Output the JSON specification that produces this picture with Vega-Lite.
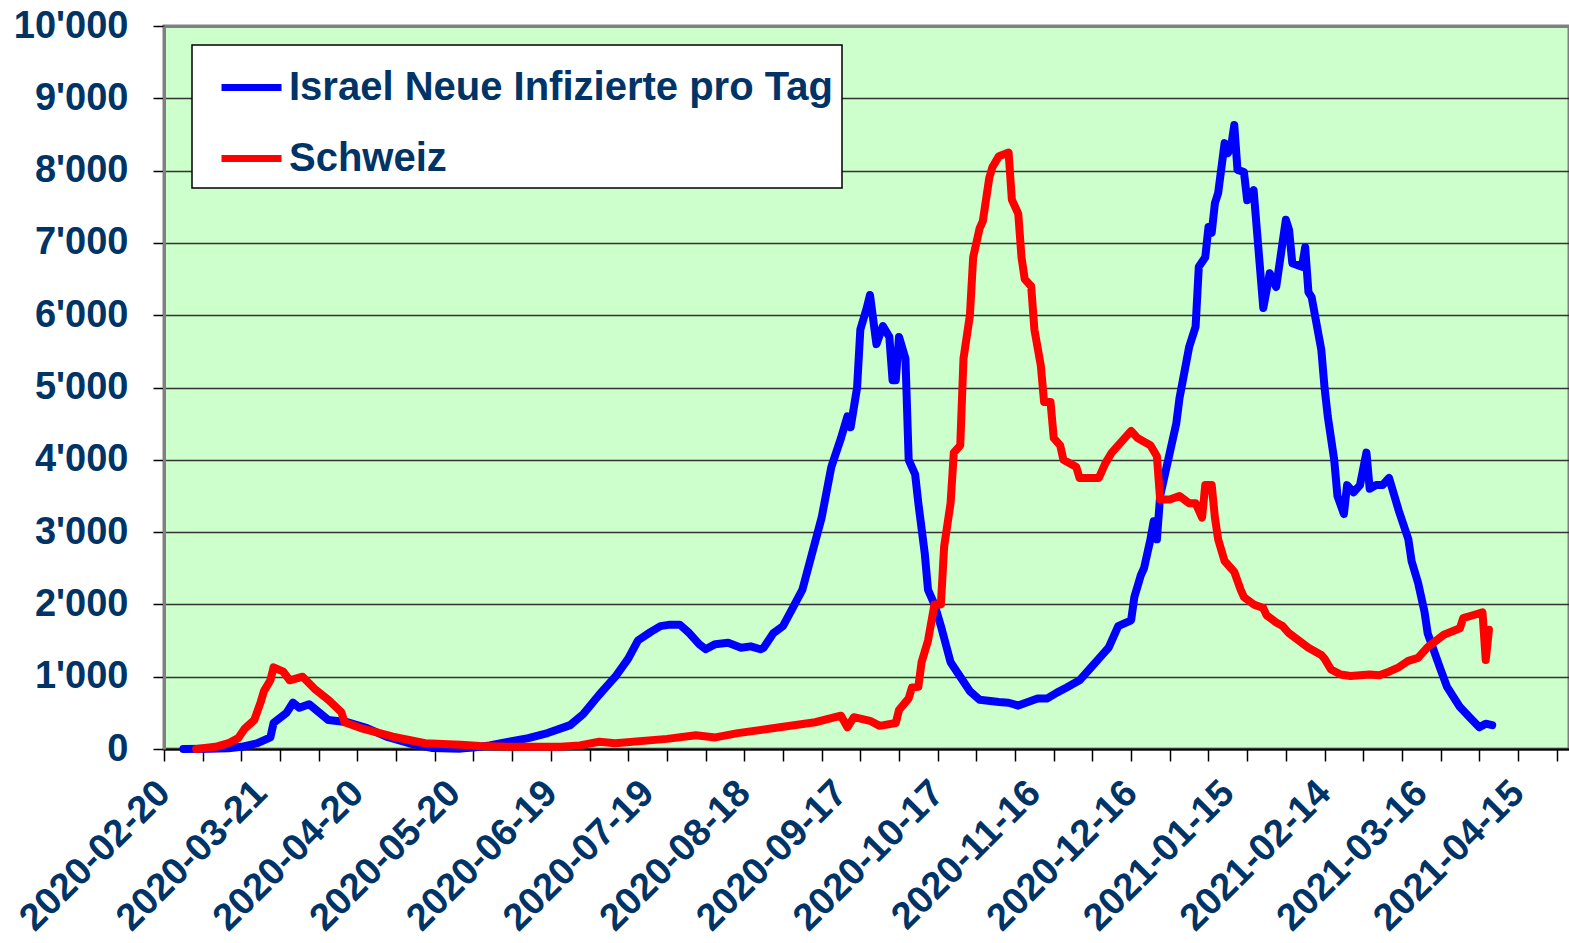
{
  "$schema": "https://vega.github.io/schema/vega-lite/v6.json",
  "width": 1405,
  "height": 723,
  "autosize": {"type": "none"},
  "padding": {"left": 164, "top": 26, "right": 0, "bottom": 194},
  "background": "white",
  "config": {
    "font": "Liberation Sans",
    "view": {"fill": "#CCFFCC", "stroke": "#808080", "strokeWidth": 3},
    "legend": {"fillColor": "white", "strokeColor": "black", "strokeWidth": 1.5}
  },
  "data": {"values": [
    {"date":"2020-02-26","value":0,"series":"Israel Neue Infizierte pro Tag"},
    {"date":"2020-03-05","value":5,"series":"Israel Neue Infizierte pro Tag"},
    {"date":"2020-03-11","value":10,"series":"Israel Neue Infizierte pro Tag"},
    {"date":"2020-03-15","value":30,"series":"Israel Neue Infizierte pro Tag"},
    {"date":"2020-03-20","value":80,"series":"Israel Neue Infizierte pro Tag"},
    {"date":"2020-03-24","value":160,"series":"Israel Neue Infizierte pro Tag"},
    {"date":"2020-03-25","value":360,"series":"Israel Neue Infizierte pro Tag"},
    {"date":"2020-03-29","value":500,"series":"Israel Neue Infizierte pro Tag"},
    {"date":"2020-03-31","value":640,"series":"Israel Neue Infizierte pro Tag"},
    {"date":"2020-04-02","value":570,"series":"Israel Neue Infizierte pro Tag"},
    {"date":"2020-04-05","value":620,"series":"Israel Neue Infizierte pro Tag"},
    {"date":"2020-04-08","value":510,"series":"Israel Neue Infizierte pro Tag"},
    {"date":"2020-04-11","value":400,"series":"Israel Neue Infizierte pro Tag"},
    {"date":"2020-04-17","value":370,"series":"Israel Neue Infizierte pro Tag"},
    {"date":"2020-04-23","value":290,"series":"Israel Neue Infizierte pro Tag"},
    {"date":"2020-04-29","value":170,"series":"Israel Neue Infizierte pro Tag"},
    {"date":"2020-05-06","value":80,"series":"Israel Neue Infizierte pro Tag"},
    {"date":"2020-05-13","value":15,"series":"Israel Neue Infizierte pro Tag"},
    {"date":"2020-05-22","value":5,"series":"Israel Neue Infizierte pro Tag"},
    {"date":"2020-05-26","value":20,"series":"Israel Neue Infizierte pro Tag"},
    {"date":"2020-05-31","value":50,"series":"Israel Neue Infizierte pro Tag"},
    {"date":"2020-06-06","value":100,"series":"Israel Neue Infizierte pro Tag"},
    {"date":"2020-06-12","value":150,"series":"Israel Neue Infizierte pro Tag"},
    {"date":"2020-06-18","value":220,"series":"Israel Neue Infizierte pro Tag"},
    {"date":"2020-06-25","value":330,"series":"Israel Neue Infizierte pro Tag"},
    {"date":"2020-06-29","value":480,"series":"Israel Neue Infizierte pro Tag"},
    {"date":"2020-07-04","value":750,"series":"Israel Neue Infizierte pro Tag"},
    {"date":"2020-07-09","value":1000,"series":"Israel Neue Infizierte pro Tag"},
    {"date":"2020-07-13","value":1250,"series":"Israel Neue Infizierte pro Tag"},
    {"date":"2020-07-16","value":1500,"series":"Israel Neue Infizierte pro Tag"},
    {"date":"2020-07-20","value":1620,"series":"Israel Neue Infizierte pro Tag"},
    {"date":"2020-07-23","value":1700,"series":"Israel Neue Infizierte pro Tag"},
    {"date":"2020-07-26","value":1720,"series":"Israel Neue Infizierte pro Tag"},
    {"date":"2020-07-29","value":1720,"series":"Israel Neue Infizierte pro Tag"},
    {"date":"2020-08-01","value":1600,"series":"Israel Neue Infizierte pro Tag"},
    {"date":"2020-08-04","value":1450,"series":"Israel Neue Infizierte pro Tag"},
    {"date":"2020-08-06","value":1380,"series":"Israel Neue Infizierte pro Tag"},
    {"date":"2020-08-09","value":1450,"series":"Israel Neue Infizierte pro Tag"},
    {"date":"2020-08-13","value":1470,"series":"Israel Neue Infizierte pro Tag"},
    {"date":"2020-08-17","value":1400,"series":"Israel Neue Infizierte pro Tag"},
    {"date":"2020-08-20","value":1420,"series":"Israel Neue Infizierte pro Tag"},
    {"date":"2020-08-23","value":1380,"series":"Israel Neue Infizierte pro Tag"},
    {"date":"2020-08-24","value":1400,"series":"Israel Neue Infizierte pro Tag"},
    {"date":"2020-08-27","value":1600,"series":"Israel Neue Infizierte pro Tag"},
    {"date":"2020-08-30","value":1700,"series":"Israel Neue Infizierte pro Tag"},
    {"date":"2020-09-02","value":1950,"series":"Israel Neue Infizierte pro Tag"},
    {"date":"2020-09-05","value":2200,"series":"Israel Neue Infizierte pro Tag"},
    {"date":"2020-09-08","value":2700,"series":"Israel Neue Infizierte pro Tag"},
    {"date":"2020-09-11","value":3200,"series":"Israel Neue Infizierte pro Tag"},
    {"date":"2020-09-14","value":3900,"series":"Israel Neue Infizierte pro Tag"},
    {"date":"2020-09-17","value":4300,"series":"Israel Neue Infizierte pro Tag"},
    {"date":"2020-09-19","value":4600,"series":"Israel Neue Infizierte pro Tag"},
    {"date":"2020-09-20","value":4450,"series":"Israel Neue Infizierte pro Tag"},
    {"date":"2020-09-22","value":5000,"series":"Israel Neue Infizierte pro Tag"},
    {"date":"2020-09-23","value":5800,"series":"Israel Neue Infizierte pro Tag"},
    {"date":"2020-09-25","value":6100,"series":"Israel Neue Infizierte pro Tag"},
    {"date":"2020-09-26","value":6280,"series":"Israel Neue Infizierte pro Tag"},
    {"date":"2020-09-28","value":5600,"series":"Israel Neue Infizierte pro Tag"},
    {"date":"2020-09-30","value":5850,"series":"Israel Neue Infizierte pro Tag"},
    {"date":"2020-10-02","value":5700,"series":"Israel Neue Infizierte pro Tag"},
    {"date":"2020-10-03","value":5100,"series":"Israel Neue Infizierte pro Tag"},
    {"date":"2020-10-04","value":5100,"series":"Israel Neue Infizierte pro Tag"},
    {"date":"2020-10-05","value":5700,"series":"Israel Neue Infizierte pro Tag"},
    {"date":"2020-10-07","value":5400,"series":"Israel Neue Infizierte pro Tag"},
    {"date":"2020-10-08","value":4000,"series":"Israel Neue Infizierte pro Tag"},
    {"date":"2020-10-10","value":3800,"series":"Israel Neue Infizierte pro Tag"},
    {"date":"2020-10-11","value":3400,"series":"Israel Neue Infizierte pro Tag"},
    {"date":"2020-10-13","value":2700,"series":"Israel Neue Infizierte pro Tag"},
    {"date":"2020-10-14","value":2200,"series":"Israel Neue Infizierte pro Tag"},
    {"date":"2020-10-16","value":2000,"series":"Israel Neue Infizierte pro Tag"},
    {"date":"2020-10-18","value":1700,"series":"Israel Neue Infizierte pro Tag"},
    {"date":"2020-10-21","value":1200,"series":"Israel Neue Infizierte pro Tag"},
    {"date":"2020-10-24","value":1000,"series":"Israel Neue Infizierte pro Tag"},
    {"date":"2020-10-27","value":800,"series":"Israel Neue Infizierte pro Tag"},
    {"date":"2020-10-30","value":680,"series":"Israel Neue Infizierte pro Tag"},
    {"date":"2020-11-05","value":650,"series":"Israel Neue Infizierte pro Tag"},
    {"date":"2020-11-08","value":640,"series":"Israel Neue Infizierte pro Tag"},
    {"date":"2020-11-11","value":600,"series":"Israel Neue Infizierte pro Tag"},
    {"date":"2020-11-14","value":650,"series":"Israel Neue Infizierte pro Tag"},
    {"date":"2020-11-17","value":700,"series":"Israel Neue Infizierte pro Tag"},
    {"date":"2020-11-20","value":700,"series":"Israel Neue Infizierte pro Tag"},
    {"date":"2020-11-23","value":780,"series":"Israel Neue Infizierte pro Tag"},
    {"date":"2020-11-26","value":850,"series":"Israel Neue Infizierte pro Tag"},
    {"date":"2020-11-30","value":950,"series":"Israel Neue Infizierte pro Tag"},
    {"date":"2020-12-03","value":1100,"series":"Israel Neue Infizierte pro Tag"},
    {"date":"2020-12-06","value":1250,"series":"Israel Neue Infizierte pro Tag"},
    {"date":"2020-12-09","value":1400,"series":"Israel Neue Infizierte pro Tag"},
    {"date":"2020-12-12","value":1700,"series":"Israel Neue Infizierte pro Tag"},
    {"date":"2020-12-16","value":1780,"series":"Israel Neue Infizierte pro Tag"},
    {"date":"2020-12-17","value":2100,"series":"Israel Neue Infizierte pro Tag"},
    {"date":"2020-12-19","value":2400,"series":"Israel Neue Infizierte pro Tag"},
    {"date":"2020-12-20","value":2500,"series":"Israel Neue Infizierte pro Tag"},
    {"date":"2020-12-22","value":2900,"series":"Israel Neue Infizierte pro Tag"},
    {"date":"2020-12-23","value":3150,"series":"Israel Neue Infizierte pro Tag"},
    {"date":"2020-12-24","value":2900,"series":"Israel Neue Infizierte pro Tag"},
    {"date":"2020-12-25","value":3500,"series":"Israel Neue Infizierte pro Tag"},
    {"date":"2020-12-28","value":4100,"series":"Israel Neue Infizierte pro Tag"},
    {"date":"2020-12-30","value":4500,"series":"Israel Neue Infizierte pro Tag"},
    {"date":"2020-12-31","value":4850,"series":"Israel Neue Infizierte pro Tag"},
    {"date":"2021-01-03","value":5560,"series":"Israel Neue Infizierte pro Tag"},
    {"date":"2021-01-05","value":5840,"series":"Israel Neue Infizierte pro Tag"},
    {"date":"2021-01-06","value":6670,"series":"Israel Neue Infizierte pro Tag"},
    {"date":"2021-01-08","value":6800,"series":"Israel Neue Infizierte pro Tag"},
    {"date":"2021-01-09","value":7220,"series":"Israel Neue Infizierte pro Tag"},
    {"date":"2021-01-10","value":7140,"series":"Israel Neue Infizierte pro Tag"},
    {"date":"2021-01-11","value":7550,"series":"Israel Neue Infizierte pro Tag"},
    {"date":"2021-01-12","value":7690,"series":"Israel Neue Infizierte pro Tag"},
    {"date":"2021-01-14","value":8380,"series":"Israel Neue Infizierte pro Tag"},
    {"date":"2021-01-15","value":8240,"series":"Israel Neue Infizierte pro Tag"},
    {"date":"2021-01-16","value":8330,"series":"Israel Neue Infizierte pro Tag"},
    {"date":"2021-01-17","value":8630,"series":"Israel Neue Infizierte pro Tag"},
    {"date":"2021-01-18","value":8010,"series":"Israel Neue Infizierte pro Tag"},
    {"date":"2021-01-20","value":7980,"series":"Israel Neue Infizierte pro Tag"},
    {"date":"2021-01-21","value":7590,"series":"Israel Neue Infizierte pro Tag"},
    {"date":"2021-01-23","value":7730,"series":"Israel Neue Infizierte pro Tag"},
    {"date":"2021-01-26","value":6100,"series":"Israel Neue Infizierte pro Tag"},
    {"date":"2021-01-28","value":6580,"series":"Israel Neue Infizierte pro Tag"},
    {"date":"2021-01-30","value":6390,"series":"Israel Neue Infizierte pro Tag"},
    {"date":"2021-02-02","value":7320,"series":"Israel Neue Infizierte pro Tag"},
    {"date":"2021-02-03","value":7180,"series":"Israel Neue Infizierte pro Tag"},
    {"date":"2021-02-04","value":6720,"series":"Israel Neue Infizierte pro Tag"},
    {"date":"2021-02-07","value":6670,"series":"Israel Neue Infizierte pro Tag"},
    {"date":"2021-02-08","value":6940,"series":"Israel Neue Infizierte pro Tag"},
    {"date":"2021-02-09","value":6320,"series":"Israel Neue Infizierte pro Tag"},
    {"date":"2021-02-10","value":6250,"series":"Israel Neue Infizierte pro Tag"},
    {"date":"2021-02-13","value":5520,"series":"Israel Neue Infizierte pro Tag"},
    {"date":"2021-02-14","value":5000,"series":"Israel Neue Infizierte pro Tag"},
    {"date":"2021-02-15","value":4600,"series":"Israel Neue Infizierte pro Tag"},
    {"date":"2021-02-17","value":4000,"series":"Israel Neue Infizierte pro Tag"},
    {"date":"2021-02-18","value":3500,"series":"Israel Neue Infizierte pro Tag"},
    {"date":"2021-02-20","value":3250,"series":"Israel Neue Infizierte pro Tag"},
    {"date":"2021-02-21","value":3650,"series":"Israel Neue Infizierte pro Tag"},
    {"date":"2021-02-23","value":3550,"series":"Israel Neue Infizierte pro Tag"},
    {"date":"2021-02-25","value":3650,"series":"Israel Neue Infizierte pro Tag"},
    {"date":"2021-02-27","value":4100,"series":"Israel Neue Infizierte pro Tag"},
    {"date":"2021-02-28","value":3600,"series":"Israel Neue Infizierte pro Tag"},
    {"date":"2021-03-02","value":3650,"series":"Israel Neue Infizierte pro Tag"},
    {"date":"2021-03-04","value":3650,"series":"Israel Neue Infizierte pro Tag"},
    {"date":"2021-03-06","value":3750,"series":"Israel Neue Infizierte pro Tag"},
    {"date":"2021-03-07","value":3600,"series":"Israel Neue Infizierte pro Tag"},
    {"date":"2021-03-09","value":3300,"series":"Israel Neue Infizierte pro Tag"},
    {"date":"2021-03-12","value":2900,"series":"Israel Neue Infizierte pro Tag"},
    {"date":"2021-03-13","value":2600,"series":"Israel Neue Infizierte pro Tag"},
    {"date":"2021-03-15","value":2300,"series":"Israel Neue Infizierte pro Tag"},
    {"date":"2021-03-17","value":1900,"series":"Israel Neue Infizierte pro Tag"},
    {"date":"2021-03-18","value":1600,"series":"Israel Neue Infizierte pro Tag"},
    {"date":"2021-03-22","value":1100,"series":"Israel Neue Infizierte pro Tag"},
    {"date":"2021-03-24","value":860,"series":"Israel Neue Infizierte pro Tag"},
    {"date":"2021-03-28","value":580,"series":"Israel Neue Infizierte pro Tag"},
    {"date":"2021-03-31","value":440,"series":"Israel Neue Infizierte pro Tag"},
    {"date":"2021-04-03","value":300,"series":"Israel Neue Infizierte pro Tag"},
    {"date":"2021-04-05","value":350,"series":"Israel Neue Infizierte pro Tag"},
    {"date":"2021-04-07","value":330,"series":"Israel Neue Infizierte pro Tag"},
    {"date":"2020-03-01","value":0,"series":"Schweiz"},
    {"date":"2020-03-07","value":30,"series":"Schweiz"},
    {"date":"2020-03-11","value":80,"series":"Schweiz"},
    {"date":"2020-03-14","value":150,"series":"Schweiz"},
    {"date":"2020-03-16","value":280,"series":"Schweiz"},
    {"date":"2020-03-19","value":400,"series":"Schweiz"},
    {"date":"2020-03-21","value":650,"series":"Schweiz"},
    {"date":"2020-03-22","value":800,"series":"Schweiz"},
    {"date":"2020-03-24","value":950,"series":"Schweiz"},
    {"date":"2020-03-25","value":1130,"series":"Schweiz"},
    {"date":"2020-03-28","value":1070,"series":"Schweiz"},
    {"date":"2020-03-30","value":950,"series":"Schweiz"},
    {"date":"2020-04-03","value":1000,"series":"Schweiz"},
    {"date":"2020-04-07","value":820,"series":"Schweiz"},
    {"date":"2020-04-11","value":680,"series":"Schweiz"},
    {"date":"2020-04-15","value":510,"series":"Schweiz"},
    {"date":"2020-04-16","value":370,"series":"Schweiz"},
    {"date":"2020-04-21","value":290,"series":"Schweiz"},
    {"date":"2020-05-01","value":170,"series":"Schweiz"},
    {"date":"2020-05-11","value":80,"series":"Schweiz"},
    {"date":"2020-05-22","value":60,"series":"Schweiz"},
    {"date":"2020-05-28","value":40,"series":"Schweiz"},
    {"date":"2020-06-09","value":30,"series":"Schweiz"},
    {"date":"2020-06-22","value":30,"series":"Schweiz"},
    {"date":"2020-06-28","value":50,"series":"Schweiz"},
    {"date":"2020-07-04","value":100,"series":"Schweiz"},
    {"date":"2020-07-09","value":80,"series":"Schweiz"},
    {"date":"2020-07-25","value":140,"series":"Schweiz"},
    {"date":"2020-08-03","value":190,"series":"Schweiz"},
    {"date":"2020-08-09","value":160,"series":"Schweiz"},
    {"date":"2020-08-16","value":220,"series":"Schweiz"},
    {"date":"2020-08-29","value":300,"series":"Schweiz"},
    {"date":"2020-09-09","value":370,"series":"Schweiz"},
    {"date":"2020-09-17","value":460,"series":"Schweiz"},
    {"date":"2020-09-19","value":300,"series":"Schweiz"},
    {"date":"2020-09-21","value":440,"series":"Schweiz"},
    {"date":"2020-09-26","value":390,"series":"Schweiz"},
    {"date":"2020-09-29","value":320,"series":"Schweiz"},
    {"date":"2020-10-04","value":360,"series":"Schweiz"},
    {"date":"2020-10-05","value":540,"series":"Schweiz"},
    {"date":"2020-10-08","value":700,"series":"Schweiz"},
    {"date":"2020-10-09","value":850,"series":"Schweiz"},
    {"date":"2020-10-11","value":860,"series":"Schweiz"},
    {"date":"2020-10-12","value":1200,"series":"Schweiz"},
    {"date":"2020-10-14","value":1500,"series":"Schweiz"},
    {"date":"2020-10-16","value":2000,"series":"Schweiz"},
    {"date":"2020-10-18","value":2000,"series":"Schweiz"},
    {"date":"2020-10-19","value":2800,"series":"Schweiz"},
    {"date":"2020-10-21","value":3400,"series":"Schweiz"},
    {"date":"2020-10-22","value":4100,"series":"Schweiz"},
    {"date":"2020-10-24","value":4200,"series":"Schweiz"},
    {"date":"2020-10-25","value":5400,"series":"Schweiz"},
    {"date":"2020-10-27","value":6000,"series":"Schweiz"},
    {"date":"2020-10-28","value":6800,"series":"Schweiz"},
    {"date":"2020-10-30","value":7200,"series":"Schweiz"},
    {"date":"2020-10-31","value":7300,"series":"Schweiz"},
    {"date":"2020-11-02","value":7900,"series":"Schweiz"},
    {"date":"2020-11-03","value":8050,"series":"Schweiz"},
    {"date":"2020-11-05","value":8200,"series":"Schweiz"},
    {"date":"2020-11-08","value":8250,"series":"Schweiz"},
    {"date":"2020-11-09","value":7600,"series":"Schweiz"},
    {"date":"2020-11-11","value":7400,"series":"Schweiz"},
    {"date":"2020-11-12","value":6800,"series":"Schweiz"},
    {"date":"2020-11-13","value":6500,"series":"Schweiz"},
    {"date":"2020-11-15","value":6400,"series":"Schweiz"},
    {"date":"2020-11-16","value":5800,"series":"Schweiz"},
    {"date":"2020-11-18","value":5300,"series":"Schweiz"},
    {"date":"2020-11-19","value":4800,"series":"Schweiz"},
    {"date":"2020-11-21","value":4800,"series":"Schweiz"},
    {"date":"2020-11-22","value":4300,"series":"Schweiz"},
    {"date":"2020-11-24","value":4200,"series":"Schweiz"},
    {"date":"2020-11-25","value":4000,"series":"Schweiz"},
    {"date":"2020-11-29","value":3900,"series":"Schweiz"},
    {"date":"2020-11-30","value":3750,"series":"Schweiz"},
    {"date":"2020-12-03","value":3750,"series":"Schweiz"},
    {"date":"2020-12-06","value":3750,"series":"Schweiz"},
    {"date":"2020-12-08","value":3950,"series":"Schweiz"},
    {"date":"2020-12-10","value":4100,"series":"Schweiz"},
    {"date":"2020-12-12","value":4200,"series":"Schweiz"},
    {"date":"2020-12-14","value":4300,"series":"Schweiz"},
    {"date":"2020-12-16","value":4400,"series":"Schweiz"},
    {"date":"2020-12-18","value":4300,"series":"Schweiz"},
    {"date":"2020-12-20","value":4250,"series":"Schweiz"},
    {"date":"2020-12-22","value":4200,"series":"Schweiz"},
    {"date":"2020-12-24","value":4050,"series":"Schweiz"},
    {"date":"2020-12-25","value":3450,"series":"Schweiz"},
    {"date":"2020-12-28","value":3450,"series":"Schweiz"},
    {"date":"2020-12-31","value":3500,"series":"Schweiz"},
    {"date":"2021-01-03","value":3400,"series":"Schweiz"},
    {"date":"2021-01-05","value":3400,"series":"Schweiz"},
    {"date":"2021-01-06","value":3300,"series":"Schweiz"},
    {"date":"2021-01-07","value":3200,"series":"Schweiz"},
    {"date":"2021-01-08","value":3650,"series":"Schweiz"},
    {"date":"2021-01-10","value":3650,"series":"Schweiz"},
    {"date":"2021-01-11","value":3200,"series":"Schweiz"},
    {"date":"2021-01-12","value":2900,"series":"Schweiz"},
    {"date":"2021-01-14","value":2600,"series":"Schweiz"},
    {"date":"2021-01-16","value":2500,"series":"Schweiz"},
    {"date":"2021-01-17","value":2450,"series":"Schweiz"},
    {"date":"2021-01-19","value":2200,"series":"Schweiz"},
    {"date":"2021-01-20","value":2100,"series":"Schweiz"},
    {"date":"2021-01-23","value":2000,"series":"Schweiz"},
    {"date":"2021-01-26","value":1950,"series":"Schweiz"},
    {"date":"2021-01-27","value":1850,"series":"Schweiz"},
    {"date":"2021-01-30","value":1750,"series":"Schweiz"},
    {"date":"2021-02-01","value":1700,"series":"Schweiz"},
    {"date":"2021-02-03","value":1600,"series":"Schweiz"},
    {"date":"2021-02-06","value":1500,"series":"Schweiz"},
    {"date":"2021-02-09","value":1400,"series":"Schweiz"},
    {"date":"2021-02-13","value":1300,"series":"Schweiz"},
    {"date":"2021-02-14","value":1250,"series":"Schweiz"},
    {"date":"2021-02-16","value":1100,"series":"Schweiz"},
    {"date":"2021-02-19","value":1030,"series":"Schweiz"},
    {"date":"2021-02-22","value":1010,"series":"Schweiz"},
    {"date":"2021-02-25","value":1020,"series":"Schweiz"},
    {"date":"2021-02-28","value":1030,"series":"Schweiz"},
    {"date":"2021-03-03","value":1020,"series":"Schweiz"},
    {"date":"2021-03-06","value":1070,"series":"Schweiz"},
    {"date":"2021-03-09","value":1130,"series":"Schweiz"},
    {"date":"2021-03-12","value":1220,"series":"Schweiz"},
    {"date":"2021-03-15","value":1260,"series":"Schweiz"},
    {"date":"2021-03-18","value":1410,"series":"Schweiz"},
    {"date":"2021-03-23","value":1580,"series":"Schweiz"},
    {"date":"2021-03-28","value":1670,"series":"Schweiz"},
    {"date":"2021-03-29","value":1810,"series":"Schweiz"},
    {"date":"2021-04-01","value":1850,"series":"Schweiz"},
    {"date":"2021-04-04","value":1890,"series":"Schweiz"},
    {"date":"2021-04-05","value":1230,"series":"Schweiz"},
    {"date":"2021-04-06","value":1650,"series":"Schweiz"}
  ]},
  "encoding": {
    "y": {
      "field": "value", "type": "quantitative",
      "scale": {"domain": [0, 10000], "nice": false},
      "axis": {
        "title": null,
        "values": [0,1000,2000,3000,4000,5000,6000,7000,8000,9000,10000],
        "labelExpr": "replace(format(datum.value, ','), ',', \"'\")",
        "labelFontSize": 38, "labelFontWeight": "bold", "labelColor": "#003366",
        "labelPadding": 25, "tickSize": 11, "tickColor": "#000000", "tickWidth": 1.5,
        "domainColor": "#808080", "domainWidth": 3,
        "grid": true,
        "gridColor": {"condition": {"test": "datum.value == 10000", "value": "#808080"}, "value": "#333333"},
        "gridWidth": {"condition": {"test": "datum.value == 10000", "value": 3}, "value": 1.5}
      }
    }
  },
  "layer": [
    {
      "mark": {"type": "line", "strokeWidth": 8, "strokeCap": "round", "strokeJoin": "round"},
      "encoding": {
        "x": {
          "field": "date", "type": "temporal",
          "scale": {"type": "utc", "domain": [{"year":2020,"month":2,"date":20,"utc":true},{"year":2021,"month":4,"date":30,"hours":20,"utc":true}]},
          "axis": {
            "title": null, "orient": "bottom",
            "values": [
              {"year":2020,"month":2,"date":20,"utc":true},
              {"year":2020,"month":3,"date":21,"utc":true},
              {"year":2020,"month":4,"date":20,"utc":true},
              {"year":2020,"month":5,"date":20,"utc":true},
              {"year":2020,"month":6,"date":19,"utc":true},
              {"year":2020,"month":7,"date":19,"utc":true},
              {"year":2020,"month":8,"date":18,"utc":true},
              {"year":2020,"month":9,"date":17,"utc":true},
              {"year":2020,"month":10,"date":17,"utc":true},
              {"year":2020,"month":11,"date":16,"utc":true},
              {"year":2020,"month":12,"date":16,"utc":true},
              {"year":2021,"month":1,"date":15,"utc":true},
              {"year":2021,"month":2,"date":14,"utc":true},
              {"year":2021,"month":3,"date":16,"utc":true},
              {"year":2021,"month":4,"date":15,"utc":true}
            ],
            "format": "%Y-%m-%d",
            "labelAngle": 315, "labelAlign": "right", "labelBaseline": "middle",
            "labelFontSize": 38, "labelFontWeight": "bold", "labelColor": "#003366",
            "labelPadding": 38, "labelLimit": 0, "ticks": false, "tickSize": 0,
            "labelOverlap": false, "labelBound": false, "labelFlush": false,
            "domainColor": "#000000", "domainWidth": 2, "grid": false
          }
        },
        "color": {
          "field": "series", "type": "nominal",
          "scale": {"domain": ["Israel Neue Infizierte pro Tag", "Schweiz"], "range": ["#0000FF", "#FF0000"]},
          "legend": {
            "title": null, "orient": "none", "legendX": 28, "legendY": 19,
            "direction": "vertical",
            "symbolType": "stroke", "symbolStrokeWidth": 7, "symbolSize": 3600,
            "symbolOffset": 17,
            "labelFontSize": 40, "labelFontWeight": "bold", "labelColor": "#003366",
            "labelOffset": 4, "labelLimit": 0, "rowPadding": 17, "padding": 9
          }
        }
      }
    },
    {
      "mark": {"type": "line", "opacity": 0},
      "encoding": {
        "detail": {"field": "series"},
        "x": {
          "field": "date", "type": "temporal",
          "scale": {"type": "utc", "domain": [{"year":2020,"month":2,"date":20,"utc":true},{"year":2021,"month":4,"date":30,"hours":20,"utc":true}]},
          "axis": {
            "title": null, "orient": "bottom", "labels": false, "domain": false, "grid": false,
            "tickSize": 12, "tickColor": "#000000", "tickWidth": 1.5,
            "values": [
              {"year":2020,"month":2,"date":20,"utc":true},
              {"year":2020,"month":3,"date":3,"utc":true},
              {"year":2020,"month":3,"date":15,"utc":true},
              {"year":2020,"month":3,"date":27,"utc":true},
              {"year":2020,"month":4,"date":8,"utc":true},
              {"year":2020,"month":4,"date":20,"utc":true},
              {"year":2020,"month":5,"date":2,"utc":true},
              {"year":2020,"month":5,"date":14,"utc":true},
              {"year":2020,"month":5,"date":26,"utc":true},
              {"year":2020,"month":6,"date":7,"utc":true},
              {"year":2020,"month":6,"date":19,"utc":true},
              {"year":2020,"month":7,"date":1,"utc":true},
              {"year":2020,"month":7,"date":13,"utc":true},
              {"year":2020,"month":7,"date":25,"utc":true},
              {"year":2020,"month":8,"date":6,"utc":true},
              {"year":2020,"month":8,"date":18,"utc":true},
              {"year":2020,"month":8,"date":30,"utc":true},
              {"year":2020,"month":9,"date":11,"utc":true},
              {"year":2020,"month":9,"date":23,"utc":true},
              {"year":2020,"month":10,"date":5,"utc":true},
              {"year":2020,"month":10,"date":17,"utc":true},
              {"year":2020,"month":10,"date":29,"utc":true},
              {"year":2020,"month":11,"date":10,"utc":true},
              {"year":2020,"month":11,"date":22,"utc":true},
              {"year":2020,"month":12,"date":4,"utc":true},
              {"year":2020,"month":12,"date":16,"utc":true},
              {"year":2020,"month":12,"date":28,"utc":true},
              {"year":2021,"month":1,"date":9,"utc":true},
              {"year":2021,"month":1,"date":21,"utc":true},
              {"year":2021,"month":2,"date":2,"utc":true},
              {"year":2021,"month":2,"date":14,"utc":true},
              {"year":2021,"month":2,"date":26,"utc":true},
              {"year":2021,"month":3,"date":10,"utc":true},
              {"year":2021,"month":3,"date":22,"utc":true},
              {"year":2021,"month":4,"date":3,"utc":true},
              {"year":2021,"month":4,"date":15,"utc":true},
              {"year":2021,"month":4,"date":27,"utc":true}
            ]
          }
        }
      }
    }
  ],
  "resolve": {"axis": {"x": "independent"}}
}
